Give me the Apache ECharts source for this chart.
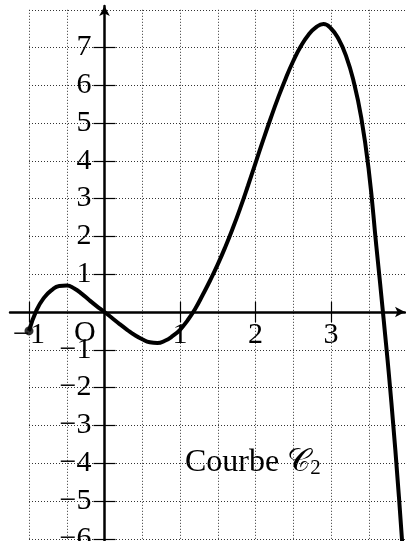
<!DOCTYPE html>
<html>
<head>
<meta charset="utf-8">
<script src="https://cdn.jsdelivr.net/npm/echarts@6/dist/echarts.min.js"></script>
<style>
  html, body { margin: 0; padding: 0; background: #fff; }
  #chart { width: 406px; height: 541px; }
</style>
</head>
<body>
<div id="chart"></div>
<script>
// courbe
var curveX = [-1, -0.9, -0.8, -0.7, -0.6, -0.5, -0.4, -0.3, -0.2, -0.1, 0, 0.1, 0.2, 0.3, 0.4, 0.5, 0.6, 0.7, 0.8, 0.9, 1.0, 1.1, 1.2, 1.3, 1.4, 1.5, 1.6, 1.7, 1.8, 1.9, 2.0, 2.1, 2.2, 2.3, 2.4, 2.5, 2.6, 2.7, 2.8, 2.9, 3.0, 3.1, 3.2, 3.3, 3.4, 3.5, 3.6, 3.7, 3.8, 3.9, 3.95];
var curveY = [-0.5, 0.05, 0.38, 0.58, 0.69, 0.7, 0.62, 0.48, 0.31, 0.15, 0, -0.16, -0.32, -0.47, -0.61, -0.72, -0.8, -0.82, -0.76, -0.64, -0.47, -0.22, 0.08, 0.45, 0.84, 1.26, 1.72, 2.22, 2.76, 3.34, 3.94, 4.54, 5.12, 5.67, 6.18, 6.64, 7.03, 7.33, 7.53, 7.62, 7.5, 7.22, 6.77, 6.1, 5.15, 3.75, 1.75, -0.25, -2.4, -4.9, -6.3];
var xTicks = [-1, 1, 2, 3];
var yTicks = [-6, -5, -4, -3, -2, -1, 1, 2, 3, 4, 5, 6, 7];

var font = "'Liberation Serif', 'DejaVu Serif', serif";
function fmt(v) { return v < 0 ? '\u2212' + (-v) : String(v); }

var pts = curveX.map(function (x, i) { return [x, curveY[i]]; });

var X0 = -1.2517, X1 = 3.980, Y0 = -6.058, Y1 = 8.095;

var myChart = echarts.init(document.getElementById('chart'));
var axisLineStyle = { color: '#000', width: 2.5 };
var tickStyle = { color: '#000', width: 1.2 };
var gridDots = { show: true, lineStyle: { color: '#333', width: 1, type: [1, 2] } };

function hidden(gi, min, max) {
    return { type: 'value', gridIndex: gi, min: min, max: max, show: false, splitLine: { show: false } };
}
function g(l, r, t, b) {
    return { left: l, right: r, top: t, bottom: b, outerBoundsMode: 'none', containLabel: false };
}

var option = {
    animation: false,
    grid: [
        g(10, 1, 6, 0),        // courbe
        g(29, 0, 9.8, 2.2),    // quadrillage
        g(10, 1, 6, 229),      // axe des x (bas de la grille = y 0)
        g(10, 1, 312, 0),      // graduations x vers le haut
        g(104.5, 1, 6, 0),     // axe des y
        g(10, 301.5, 6, 0)     // graduations y vers la droite
    ],
    xAxis: [
        hidden(0, X0, X1),
        {
            type: 'value', gridIndex: 1, min: -1, max: 3.993, interval: 0.5,
            axisLine: { show: false }, axisTick: { show: false }, axisLabel: { show: false },
            splitLine: gridDots
        },
        {
            type: 'value', gridIndex: 2, min: X0, max: X1, position: 'bottom',
            axisLine: { onZero: false, symbol: ['none', 'arrow'], symbolSize: [8, 10], lineStyle: axisLineStyle },
            axisTick: { customValues: xTicks, length: 10, lineStyle: tickStyle },
            axisLabel: { customValues: xTicks, formatter: fmt, fontFamily: font, fontSize: 30, color: '#000', margin: 8 },
            splitLine: { show: false }
        },
        {
            type: 'value', gridIndex: 3, min: X0, max: X1, position: 'top',
            axisLine: { show: false, onZero: false },
            axisTick: { show: true, customValues: xTicks, length: 10, lineStyle: tickStyle },
            axisLabel: { show: false },
            splitLine: { show: false }
        },
        hidden(4, X0, X1),
        hidden(5, X0, X1)
    ],
    yAxis: [
        hidden(0, Y0, Y1),
        {
            type: 'value', gridIndex: 1, min: -6, max: 8, interval: 1,
            axisLine: { show: false }, axisTick: { show: false }, axisLabel: { show: false },
            splitLine: gridDots
        },
        hidden(2, Y0, Y1),
        hidden(3, Y0, Y1),
        {
            type: 'value', gridIndex: 4, min: Y0, max: Y1, position: 'left',
            axisLine: { onZero: false, symbol: ['none', 'arrow'], symbolSize: [8, 10], lineStyle: axisLineStyle },
            axisTick: { customValues: yTicks, length: 11, lineStyle: tickStyle },
            axisLabel: { customValues: yTicks, formatter: fmt, fontFamily: font, fontSize: 30, color: '#000', margin: 13 },
            splitLine: { show: false }
        },
        {
            type: 'value', gridIndex: 5, min: Y0, max: Y1, position: 'right',
            axisLine: { show: false, onZero: false },
            axisTick: { show: true, customValues: yTicks, length: 11, lineStyle: tickStyle },
            axisLabel: { show: false },
            splitLine: { show: false }
        }
    ],
    graphic: [
        { type: 'text', left: 74, top: 318, style: { text: 'O', font: '30px ' + font, fill: '#000' } },
        {
            type: 'text', left: 185, top: 447,
            style: {
                text: '{a|Courbe \uD835\uDC9E}{b|2}',
                rich: {
                    a: { fontFamily: font, fontSize: 32, lineHeight: 32, fill: '#000' },
                    b: { fontFamily: font, fontSize: 21, lineHeight: 16, verticalAlign: 'bottom', fill: '#000' }
                }
            }
        }
    ],
    series: [
        {
            type: 'line', xAxisIndex: 0, yAxisIndex: 0,
            data: pts, smooth: true, showSymbol: false, clip: true,
            lineStyle: { color: '#000', width: 4 }, z: 5
        },
        {
            type: 'scatter', xAxisIndex: 0, yAxisIndex: 0,
            data: [pts[0]], symbolSize: 9, itemStyle: { color: '#000' }, z: 6
        }
    ]
};
myChart.setOption(option);
</script>
</body>
</html>
